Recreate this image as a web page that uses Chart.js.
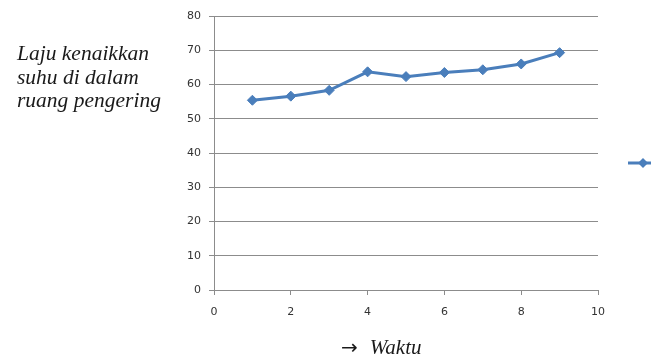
<!DOCTYPE html>
<html>
<head>
    <meta charset="utf-8" />
    <title>Laju kenaikkan suhu</title>
    <script src="https://cdn.jsdelivr.net/npm/chart.js"></script>
    <style>
        body { margin: 0; padding: 0; background: #fff; overflow: hidden; }
        #wrap { position: relative; width: 651px; height: 363px; }
        #chart { position: absolute; left: 0; top: 0; }
        .label {
            position: absolute;
            font-family: "Liberation Serif", "DejaVu Serif", serif;
            font-style: italic;
            color: #1a1a1a;
            white-space: nowrap;
        }
        #ylabel { left: 17px; top: 42px; font-size: 21.5px; line-height: 23.5px; }
        #xlabel { left: 341px; top: 335px; font-size: 21px; }
        #xlabel .arrow {
            font-style: normal;
            font-family: "DejaVu Sans", sans-serif;
            font-size: 20px;
            margin-right: 12px;
        }
    </style>
</head>
<body>
    <div id="wrap">
        <canvas id="chart" width="651" height="363"></canvas>
        <div id="ylabel" class="label">Laju kenaikkan<br>suhu di dalam<br>ruang pengering</div>
        <div id="xlabel" class="label"><span class="arrow">&rarr;</span>Waktu</div>
    </div>
    <script>
        // data
        var waktu = [1, 2, 3, 4, 5, 6, 7, 8, 9];
        var suhu = [55.4, 56.6, 58.3, 63.7, 62.3, 63.5, 64.3, 66.0, 69.3];
        var seriesName = 'Series1';

        var blue = '#4a7ebb';
        var gridGray = '#8c8c8c';

        // legend cut off at the right edge, only the line + marker shows
        var legendStub = {
            id: 'legendStub',
            afterDraw: function(chart) {
                var ctx = chart.ctx;
                ctx.save();
                ctx.strokeStyle = blue;
                ctx.lineWidth = 3;
                ctx.beginPath();
                ctx.moveTo(628, 163);
                ctx.lineTo(651, 163);
                ctx.stroke();
                ctx.fillStyle = blue;
                ctx.beginPath();
                ctx.moveTo(643, 158);
                ctx.lineTo(648, 163);
                ctx.lineTo(643, 168);
                ctx.lineTo(638, 163);
                ctx.closePath();
                ctx.fill();
                ctx.restore();
            }
        };

        var tickFont = { family: 'DejaVu Sans', size: 11 };

        new Chart(document.getElementById('chart'), {
            type: 'line',
            data: {
                datasets: [{
                    label: seriesName,
                    data: waktu.map(function(x, i) { return { x: x, y: suhu[i] }; }),
                    borderColor: blue,
                    backgroundColor: blue,
                    borderWidth: 3,
                    pointStyle: 'rectRot',
                    pointRadius: 5,
                    pointBorderWidth: 1,
                    tension: 0
                }]
            },
            options: {
                responsive: false,
                animation: false,
                layout: { padding: { left: 176, right: 53, top: 16, bottom: 43 } },
                plugins: {
                    legend: { display: false },
                    tooltip: { enabled: false }
                },
                scales: {
                    x: {
                        type: 'linear',
                        min: 0,
                        max: 10,
                        afterFit: function(s) { s.height = 30; },
                        ticks: {
                            stepSize: 2,
                            padding: 11,
                            color: '#333',
                            font: tickFont
                        },
                        grid: {
                            drawOnChartArea: false,
                            drawTicks: true,
                            tickLength: 5,
                            color: gridGray
                        },
                        border: { color: gridGray, width: 1 }
                    },
                    y: {
                        min: 0,
                        max: 80,
                        afterFit: function(s) { s.width = 38; },
                        ticks: {
                            stepSize: 10,
                            padding: 8,
                            color: '#333',
                            font: tickFont
                        },
                        grid: {
                            color: gridGray,
                            tickLength: 5
                        },
                        border: { color: gridGray, width: 1 }
                    }
                }
            },
            plugins: [legendStub]
        });
    </script>
</body>
</html>
